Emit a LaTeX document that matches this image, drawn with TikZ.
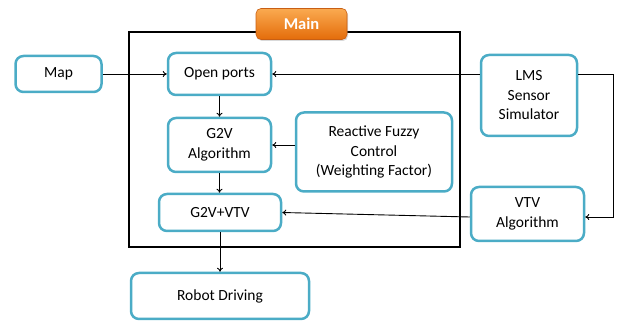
\documentclass[tikz,border=0pt]{standalone}
\usepackage{fontspec}
\setmainfont{Carlito}
\usetikzlibrary{arrows.meta,shadows}
\definecolor{boxblue}{RGB}{75,172,198}
\definecolor{orlight}{RGB}{250,170,80}
\definecolor{ordark}{RGB}{228,108,10}
\definecolor{orborder}{RGB}{200,95,20}
\tikzset{
  blk/.style={draw=boxblue, line width=2.5pt, rounded corners=8pt, fill=white,
    align=center, inner sep=0pt, font=\fontsize{15.5}{19.5}\selectfont},
  arr/.style={draw=black, line width=0.9pt, -{To[length=4pt,width=6pt]}},
  frame/.style={draw=black, line width=1.3pt},
  mainbox/.style={draw=orborder, line width=0.6pt, rounded corners=5pt,
    top color=orlight, bottom color=ordark, text=white,
    font=\fontsize{16.5}{19}\selectfont\bfseries, inner sep=0pt,
    drop shadow={opacity=0.3, shadow xshift=1pt, shadow yshift=-1.5pt}}
}
\begin{document}
\begin{tikzpicture}[x=1pt,y=-1pt]
\useasboundingbox (0,0) rectangle (622,323);
\draw[frame] (129,32) rectangle (460,247);
\node[mainbox, minimum width=91pt, minimum height=31pt] (main) at (301.5,24) {Main};

\node[blk, minimum width=86pt, minimum height=36pt] (map) at (58.5,74) {Map};
\node[blk, minimum width=103pt, minimum height=42pt] (open) at (219.5,74) {Open ports};
\node[blk, minimum width=103pt, minimum height=54pt] (g2v) at (219.5,145) {G2V\\Algorithm};
\node[blk, minimum width=156pt, minimum height=79pt] (rfc) at (374,152) {Reactive Fuzzy\\Control\\(Weighting Factor)};
\node[blk, minimum width=96pt, minimum height=81pt] (lms) at (529,95.5) {LMS\\Sensor\\Simulator};
\node[blk, minimum width=122pt, minimum height=37pt] (gv) at (220,212.5) {G2V+VTV};
\node[blk, minimum width=113pt, minimum height=54pt] (vtv) at (527.5,214) {VTV\\Algorithm};
\node[blk, minimum width=178pt, minimum height=46pt] (robot) at (220,296) {Robot Driving};

\coordinate (rt) at (613,74);
\draw[arr] (map.east) -- (open.west);
\draw[arr] (open.east -| lms.west) -- (open.east);
\draw[arr] (open.east -| lms.east) -- (rt) |- ([yshift=-3pt]vtv.east);
\draw[arr] ([yshift=-3pt]vtv.west) -- (gv.east);
\draw[arr] (g2v.east -| rfc.west) -- (g2v.east);
\draw[arr] (open.south) -- (g2v.north);
\draw[arr] (g2v.south) -- (gv.north -| g2v.south);
\draw[arr] (gv.south) -- (robot.north -| gv.south);
\end{tikzpicture}
\end{document}
